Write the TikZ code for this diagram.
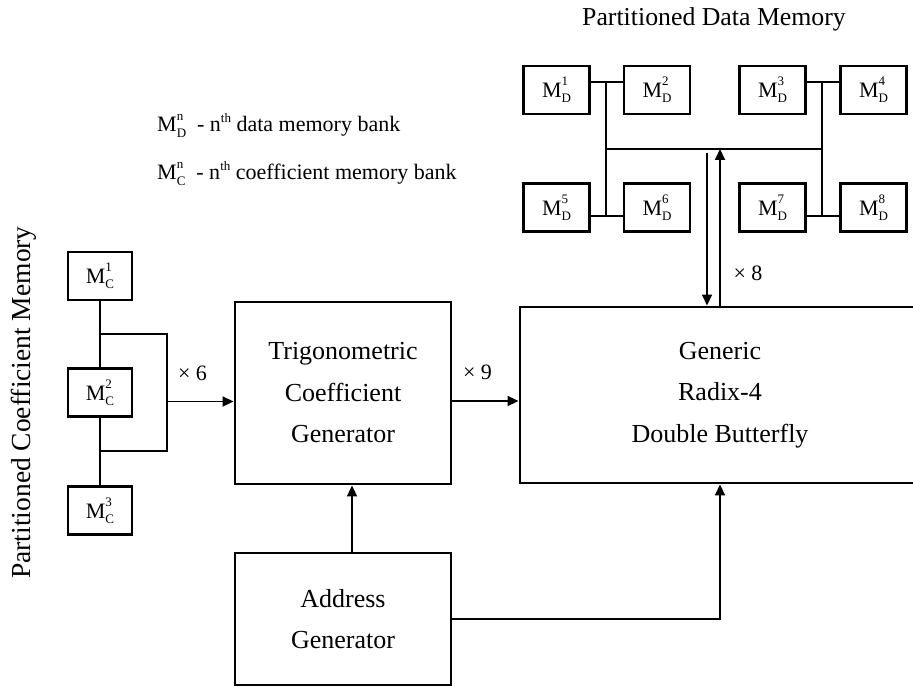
\documentclass[tikz,border=0pt]{standalone}
\usepackage{fontspec}
\setmainfont{Liberation Serif}
\usetikzlibrary{arrows.meta}

% memory bank label: M with stacked sub- and superscript
\newcommand\memlbl[2]{M\rlap{\raisebox{0.53em}{\fontsize{13}{13}\selectfont #2}}\raisebox{-0.23em}{\fontsize{13}{13}\selectfont #1}}
\newcommand\ordsup[1]{\raisebox{0.42em}{\fontsize{13}{13}\selectfont #1}}

\begin{document}
\begin{tikzpicture}[x=1pt,y=-1pt,
  box/.style={draw, line width=2.9pt, inner sep=0pt, align=center,
              font=\fontsize{26}{41.5}\selectfont},
  mem/.style={draw, line width=2.9pt, inner sep=0pt, minimum width=66pt,
              minimum height=48pt, font=\fontsize{22}{26}\selectfont},
  wire/.style={line width=1.8pt},
  arr/.style={wire, -{Triangle[length=11pt,width=10pt]}},
  lbl/.style={font=\fontsize{22}{26}\selectfont, inner sep=0pt}
]
\useasboundingbox (0,0) rectangle (913,687);

% ---- partitioned data memory ----
\node[mem] (d1) at (556.5,90)  {\memlbl{D}{1}};
\node[mem] (d2) at (657,90)    {\memlbl{D}{2}};
\node[mem] (d3) at (772.5,90)  {\memlbl{D}{3}};
\node[mem] (d4) at (873.5,90)  {\memlbl{D}{4}};
\node[mem] (d5) at (556.5,207.5) {\memlbl{D}{5}};
\node[mem] (d6) at (657,207.5)   {\memlbl{D}{6}};
\node[mem] (d7) at (772.5,207.5) {\memlbl{D}{7}};
\node[mem] (d8) at (873.5,207.5) {\memlbl{D}{8}};

\coordinate (lt) at (606,82);
\coordinate (lb) at (606,216);
\coordinate (rt) at (822,82);
\coordinate (rb) at (822,216);
\coordinate (bl) at (606,149);
\coordinate (br) at (822,149);

\draw[wire] (d1.east |- lt) -- (d2.west |- lt);
\draw[wire] (d3.east |- rt) -- (d4.west |- rt);
\draw[wire] (d5.east |- lb) -- (d6.west |- lb);
\draw[wire] (d7.east |- rb) -- (d8.west |- rb);
\draw[wire] (lt) -- (lb);
\draw[wire] (rt) -- (rb);
\draw[wire] (bl) -- (br);

\node[font=\fontsize{25.8}{28}\selectfont, anchor=base, inner sep=0pt] (dtitle) at (714,26) {Partitioned Data Memory};

% ---- legend ----
\node[lbl, anchor=base west] (leg1) at (157,132)
  {\memlbl{D}{n}~~-~n\ordsup{th} data memory bank};
\node[lbl, anchor=base west] (leg2) at (157,180)
  {\memlbl{C}{n}~~-~n\ordsup{th} coefficient memory bank};

% ---- partitioned coefficient memory ----
\node[mem, minimum width=64pt] (c1) at (100,276)   {\memlbl{C}{1}};
\node[mem, minimum width=64pt] (c2) at (100,392.5) {\memlbl{C}{2}};
\node[mem, minimum width=64pt] (c3) at (100,510.5) {\memlbl{C}{3}};

\node[rotate=90, anchor=base, inner sep=0pt, font=\fontsize{27.5}{30}\selectfont] (ctitle)
  at (30,402.5) {Partitioned Coefficient Memory};

\draw[wire] (c1.south) -- (c2.north);
\draw[wire] (c2.south) -- (c3.north);

\coordinate (ctop) at (100,334);
\coordinate (cbot) at (100,451);
\coordinate (cjoin) at (167,401.5);
\draw[wire] (ctop) -| (cjoin) |- (cbot);

% ---- processing blocks ----
\node[box, minimum width=216pt, minimum height=182pt] (tcg) at (343,393)
  {Trigonometric\\Coefficient\\Generator};
\node[box, minimum width=216pt, minimum height=132pt] (ag) at (343,619)
  {Address\\Generator};
\node[box, minimum width=400pt, minimum height=176pt] (bf) at (720,395)
  {Generic\\Radix-4\\Double Butterfly};

% ---- connectors ----
\draw[arr] (cjoin) -- (cjoin -| tcg.west);
\node[lbl] (x6) at (192.5,373) {× 6};

\coordinate (nine) at (452,401);
\draw[arr] (tcg.east |- nine) -- (bf.west |- nine);
\node[lbl] (x9) at (477.5,372) {× 9};

\coordinate (agup) at (352,0);
\draw[arr] (ag.north -| agup) -- (tcg.south -| agup);
\draw[arr] (ag.east) -| (bf.south);

\coordinate (dstart) at (707,153);
\draw[arr] (bf.north) -- (bf.north |- bl);
\draw[arr] (dstart) -- (dstart |- bf.north);
\node[lbl] (x8) at (748,273) {× 8};
\end{tikzpicture}
\end{document}
